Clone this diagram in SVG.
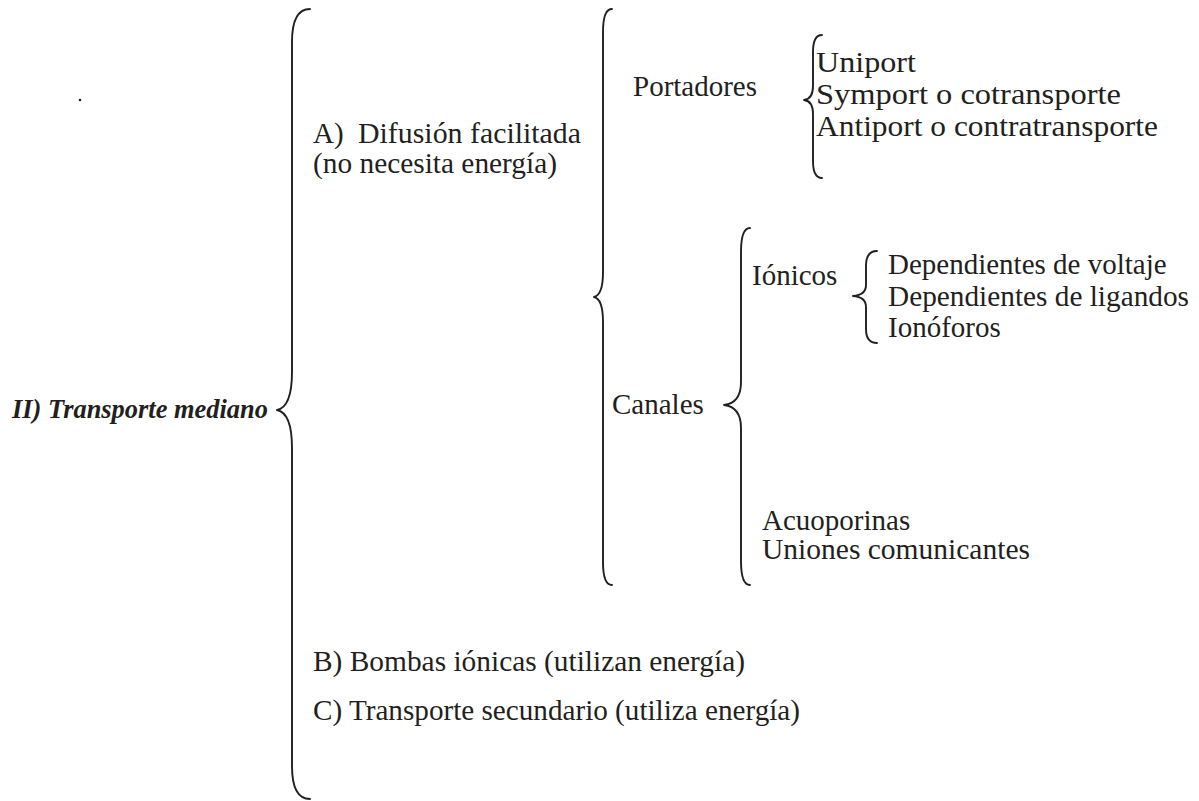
<svg xmlns="http://www.w3.org/2000/svg" width="1199" height="801" viewBox="0 0 1199 801">
<style>
.t{font-family:"Liberation Serif","Times New Roman",serif;font-size:29px;fill:#231f20}
.h{font-family:"Liberation Serif","Times New Roman",serif;font-size:27px;font-weight:bold;font-style:italic;fill:#231f20}
.b{fill:none;stroke:#231f20;stroke-width:1.9;stroke-linecap:round;stroke-linejoin:round}
</style>
<rect width="1199" height="801" fill="#ffffff"/>
<circle cx="80" cy="100" r="1.3" fill="#231f20"/>
<g id="connectors">
<path class="b" d="M310 9 Q292 9 292 42 L292 372 Q292 407 277 410 Q292 413 292 448 L292 766 Q292 799 310 799"/>
<path class="b" d="M612 9 Q603 9 603 32 L603 272 Q603 295 594 297 Q603 299 603 322 L603 562 Q603 585 612 585"/>
<path class="b" d="M822 35 Q813 35 813 52 L813 86 Q813 99 804 100 Q813 101 813 114 L813 161 Q813 178 822 178"/>
<path class="b" d="M750 228 Q741 228 741 252 L741 382 Q741 403 724 405 Q741 407 741 428 L741 561 Q741 585 750 585"/>
<path class="b" d="M877 251 Q866 251 866 266 L866 285 Q866 295 853 296 Q866 297 866 307 L866 329 Q866 343 877 343"/>
</g>
<g id="root"><text class="h" x="12" y="418" textLength="256" lengthAdjust="spacingAndGlyphs">II) Transporte mediano</text></g>
<g id="difusion"><text class="t" x="313" y="143">A)<tspan x="358" textLength="223" lengthAdjust="spacingAndGlyphs">Difusión facilitada</tspan></text><text class="t" x="313" y="173" textLength="244" lengthAdjust="spacingAndGlyphs">(no necesita energía)</text></g>
<g id="portadores"><text class="t" x="633" y="96">Portadores</text></g>
<g id="portadores-tipos"><text class="t" x="816" y="72" textLength="100" lengthAdjust="spacingAndGlyphs">Uniport</text><text class="t" x="816" y="104" textLength="305" lengthAdjust="spacingAndGlyphs">Symport o cotransporte</text><text class="t" x="816" y="136" textLength="342" lengthAdjust="spacingAndGlyphs">Antiport o contratransporte</text></g>
<g id="canales"><text class="t" x="612" y="414">Canales</text></g>
<g id="ionicos"><text class="t" x="752" y="285">Iónicos</text></g>
<g id="ionicos-tipos"><text class="t" x="888" y="274">Dependientes de voltaje</text><text class="t" x="888" y="306" textLength="301" lengthAdjust="spacingAndGlyphs">Dependientes de ligandos</text><text class="t" x="888" y="337">Ionóforos</text></g>
<g id="otros-canales"><text class="t" x="762" y="530">Acuoporinas</text><text class="t" x="762" y="559" textLength="268" lengthAdjust="spacingAndGlyphs">Uniones comunicantes</text></g>
<g id="bombas"><text class="t" x="313" y="671" textLength="432" lengthAdjust="spacingAndGlyphs">B) Bombas iónicas (utilizan energía)</text></g>
<g id="secundario"><text class="t" x="313" y="720" textLength="487" lengthAdjust="spacingAndGlyphs">C) Transporte secundario (utiliza energía)</text></g>
</svg>
